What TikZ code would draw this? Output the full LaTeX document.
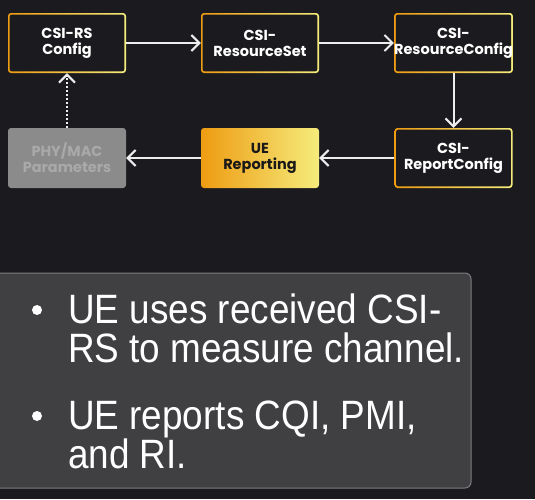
\documentclass[tikz,border=0pt]{standalone}
\usepackage{fontspec}
\setmainfont[FakeStretch=0.9]{Liberation Sans}
\newfontfamily\boxfont{Poppins}
\usetikzlibrary{arrows.meta}
\definecolor{bgdark}{HTML}{1B1B1F}
\definecolor{gorange}{HTML}{EE9C12}
\definecolor{gyellow}{HTML}{F5EC7C}
\definecolor{panelgray}{HTML}{404043}
\definecolor{panelrim}{HTML}{7C7C80}
\definecolor{phyfill}{HTML}{8B8B8B}
\definecolor{phytext}{HTML}{A9A9A9}
\definecolor{arrowwhite}{HTML}{EDEDED}
\tikzset{
  boxbase/.style={rectangle, rounded corners=3pt, minimum width=118pt, minimum height=60pt,
    inner sep=0pt, align=center, font=\boxfont\bfseries\fontsize{14.5}{16}\selectfont},
  cfgbox/.style={boxbase, text=white, left color=gorange, right color=gyellow,
    path picture={\fill[bgdark, rounded corners=2pt]
      ([shift={(1.7pt,-1.7pt)}]path picture bounding box.north west) rectangle
      ([shift={(-1.7pt,1.7pt)}]path picture bounding box.south east);}},
  uebox/.style={boxbase, text=black!90, left color=gorange, right color=gyellow},
  phybox/.style={boxbase, text=phytext, fill=phyfill},
  flow/.style={draw=arrowwhite, line width=2pt, -{Straight Barb[length=8pt,width=16pt]}},
  bullettext/.style={anchor=base west, inner sep=0pt, text=white, align=left,
    font=\fontsize{41}{39}\selectfont}
}
\begin{document}
\begin{tikzpicture}[x=1pt,y=-1pt]
\fill[bgdark] (0,0) rectangle (535,499);
\useasboundingbox (0,0) rectangle (535,499);
% top row
\node[cfgbox] (rscfg) at (67,43) {CSI-RS\\Config};
\node[cfgbox] (resset) at (260,43) {CSI-\\ResourceSet};
\node[cfgbox] (rescfg) at (453.5,43) {CSI-\\ResourceConfig};
% bottom row
\node[phybox] (phymac) at (67,158) {PHY/MAC\\Parameters};
\node[uebox] (uerep) at (260,158) {UE\\Reporting};
\node[cfgbox] (repcfg) at (453.5,158) {CSI-\\ReportConfig};
% connectors
\draw[flow] (rscfg) -- (resset);
\draw[flow] (resset) -- (rescfg);
\draw[flow] (rescfg) -- (repcfg);
\draw[flow] (repcfg) -- (uerep);
\draw[flow] (uerep) -- (phymac);
\draw[flow, dash pattern=on 2pt off 2pt] (phymac) -- (rscfg);
% note panel, bullets placed on the last baseline of each item
\draw[panelrim, fill=panelgray, line width=1pt, rounded corners=6pt] (-10,273) rectangle (471,488);
\foreach \y in {310,416}
  \fill[white] (37,\y) circle (5pt);
\node[bullettext] (note1) at (68,362) {UE uses received CSI-\\RS to measure channel.};
\node[bullettext] (note2) at (68,468) {UE reports CQI, PMI,\\and RI.};
\end{tikzpicture}
\end{document}
